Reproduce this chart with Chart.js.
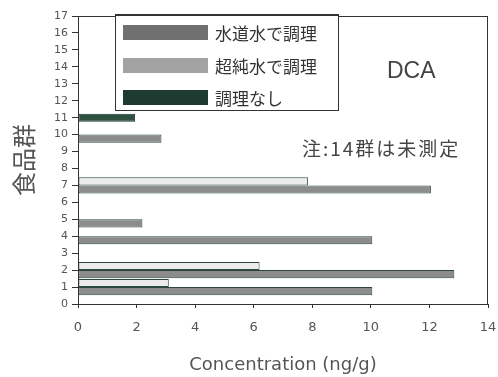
<!DOCTYPE html>
<html lang="ja">
<head>
  <meta charset="UTF-8">
  <title>DCA 食品群別濃度</title>
  <script src="https://cdn.jsdelivr.net/npm/chart.js"></script>
  <style>
    body { margin: 0; background: #fff; }
    #wrap { position: relative; width: 498px; height: 377px; }
    canvas { width: 498px !important; height: 377px !important; }
    #legendBox {
      position: absolute; left: 115px; top: 14px; width: 222px; height: 94px;
      border: 1px solid #333; border-top-width: 2px; background: #fff;
      font-family: "Noto Sans CJK JP", sans-serif; font-size: 17px; color: #333;
    }
    .row { position: absolute; left: 7px; height: 16px; display: flex; align-items: center; }
    .sw { width: 85px; height: 15px; margin-right: 7px; }
    #dca { position: absolute; left: 387px; top: 57px; font-family: "Liberation Sans", Arial, sans-serif; font-size: 23px; color: #444; }
    #note { position: absolute; left: 302px; top: 134px; font-family: "Noto Sans CJK JP", sans-serif; font-size: 19px; letter-spacing: 2px; color: #444; white-space: nowrap; }
  </style>
</head>
<body>
  <div id="wrap">
    <canvas id="dcaChart" width="498" height="377"></canvas>
    <div id="legendBox"></div>
    <div id="dca">DCA</div>
    <div id="note">注:14群は未測定</div>
  </div>
  <script>
    // 食品群ごとの濃度 (ng/g)
    const foodGroups = [1, 2, 4, 5, 7, 10, 11];
    const tapWater  = [10.05, 12.85, 10.05, 2.2, 12.05, 2.85, null]; // 水道水で調理
    const pureWater = [3.1, 6.2, null, null, 7.85, null, null];      // 超純水で調理
    const noCooking = [null, null, null, null, null, null, 1.95];    // 調理なし
    const seriesNames = ["水道水で調理", "超純水で調理", "調理なし"];
    const legendColors = ["#707070", "#a2a2a2", "#1f3a30"];

    function toPoints(values) {
      return foodGroups.map((g, i) => ({ x: values[i], y: g })).filter(p => p.x !== null);
    }

    // 凡例 (プロット内の枠)
    const legendBox = document.getElementById("legendBox");
    const rowTops = [8, 41, 73];
    seriesNames.forEach((name, i) => {
      const row = document.createElement("div");
      row.className = "row";
      row.style.top = rowTops[i] + "px";
      row.innerHTML = '<div class="sw" style="background:' + legendColors[i] + '"></div><span>' + name + '</span>';
      legendBox.appendChild(row);
    });

    // プロット枠
    const frame = {
      id: "frame",
      afterDraw(chart) {
        const a = chart.chartArea;
        const c = chart.ctx;
        c.save();
        c.strokeStyle = "#333";
        c.lineWidth = 1;
        c.strokeRect(a.left + 0.5, a.top + 0.5, a.right - a.left - 1, a.bottom - a.top);
        c.restore();
      }
    };

    Chart.defaults.font.family = "'DejaVu Sans', sans-serif";
    Chart.defaults.color = "#555";

    new Chart(document.getElementById("dcaChart"), {
      type: "bar",
      data: {
        datasets: [
          {
            label: seriesNames[0], data: toPoints(tapWater), order: 2,
            backgroundColor: "#8c8c8c", borderColor: "#2c4a3c", borderWidth: 1, borderSkipped: false
          },
          {
            label: seriesNames[1], data: toPoints(pureWater), order: 1,
            backgroundColor: "#ececec", borderColor: "#2c4a3c", borderWidth: 1, borderSkipped: false
          },
          {
            label: seriesNames[2], data: toPoints(noCooking), order: 3, grouped: false, maxBarThickness: 8,
            backgroundColor: "#2e5142", borderColor: "#1f3a30", borderWidth: 1, borderSkipped: false
          }
        ]
      },
      options: {
        indexAxis: "y",
        responsive: false,
        animation: false,
        categoryPercentage: 0.96,
        barPercentage: 1.0,
        layout: { padding: { top: 16, right: 0, left: 0, bottom: 0 } },
        plugins: { legend: { display: false }, tooltip: { enabled: false } },
        scales: {
          x: {
            type: "linear", min: 0, max: 14,
            ticks: { stepSize: 2, font: { size: 13 }, padding: 12, color: "#555" },
            grid: { drawOnChartArea: false, drawTicks: true, tickLength: 4, color: "#333" },
            border: { color: "#333" },
            title: { display: true, text: "Concentration (ng/g)", font: { size: 18 }, color: "#555", padding: { top: 4, bottom: 1 } },
            afterFit(s) { s.height = 73; s.paddingRight = 10; s.paddingLeft = 0; }
          },
          y: {
            type: "linear", min: 0, max: 17, offset: false,
            ticks: { stepSize: 1, font: { size: 11 }, padding: 4, color: "#555" },
            grid: { drawOnChartArea: false, drawTicks: true, tickLength: 6, color: "#333", offset: false },
            border: { color: "#333" },
            title: { display: true, text: "食品群", font: { size: 24, family: "'Noto Sans CJK JP', sans-serif" }, color: "#555", padding: { top: 9, bottom: 0 } },
            afterFit(s) { s.width = 78; }
          }
        }
      },
      plugins: [frame]
    });
  </script>
</body>
</html>
